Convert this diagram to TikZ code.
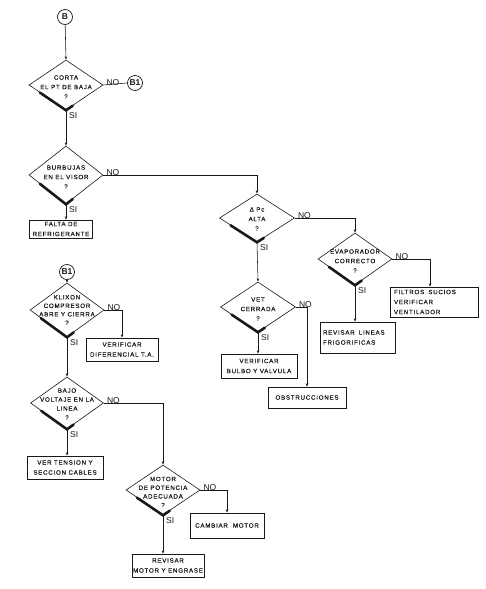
\documentclass[tikz,border=0pt]{standalone}
\usepackage{fontspec}
\setmainfont{Liberation Sans}
\newfontfamily\lblfont[LetterSpace=12,FakeBold=0.5]{Liberation Sans}
\usetikzlibrary{shapes.geometric,calc,arrows.meta}
\definecolor{ink}{gray}{0.1}
\tikzset{
  dia/.style={shape=diamond,draw=ink,line width=0.6pt,inner sep=0pt},
  dtext/.style={align=center,font=\lblfont\fontsize{6.2}{9.5}\selectfont,text=ink,inner sep=0pt},
  abox/.style={draw=ink,line width=0.6pt,align=center,font=\lblfont\fontsize{6.2}{10}\selectfont,text=ink,inner sep=0pt},
  conn/.style={circle,draw=ink,line width=0.7pt,minimum size=15pt,inner sep=0pt,font=\fontsize{8.5}{9}\selectfont\bfseries,text=ink},
  flow/.style={draw=ink,line width=0.55pt,-{Stealth[length=3.5pt,width=2.5pt]}},
  plain/.style={draw=ink,line width=0.55pt},
  yn/.style={font=\fontsize{8.5}{8.5}\selectfont,text=ink,inner sep=0pt},
  shade/.style={draw=ink,line width=2.6pt,line cap=round}
}
\newcommand{\diashade}[1]{%
  \draw[shade] ($(#1.west)!0.3!(#1.south)$) -- (#1.south) -- ($(#1.south)!0.18!(#1.east)$);}
\begin{document}
\begin{tikzpicture}[x=1pt,y=-1pt]
\useasboundingbox (0,0) rectangle (485,589);
% connectors B, B1
\node[conn] (B) at (65,17) {B};
\node[conn] (B1a) at (135,83) {B1};
\node[conn] (B1b) at (67,272) {B1};
% diamonds
\node[dia,minimum width=74pt,minimum height=50pt] (d1) at (66,85) {};
\node[dtext] (d1t) at (66,87) {CORTA\\EL PT DE BAJA\\?};
\node[dia,minimum width=74pt,minimum height=58pt] (d2) at (66,175) {};
\node[dtext] (d2t) at (66,177) {BURBUJAS\\EN EL VISOR\\?};
\node[dia,minimum width=75pt,minimum height=48pt] (d3) at (257,218) {};
\node[dtext] (d3t) at (257,219) {Δ Pc\\ALTA\\?};
\node[dia,minimum width=74pt,minimum height=52pt] (d4) at (355,259) {};
\node[dtext] (d4t) at (355,261) {EVAPORADOR\\CORRECTO\\?};
\node[dia,minimum width=75pt,minimum height=50pt] (d5) at (258,307) {};
\node[dtext] (d5t) at (258,309) {VET\\CERRADA\\?};
\node[dia,minimum width=74pt,minimum height=54pt] (d6) at (67,310) {};
\node[dtext,font=\lblfont\fontsize{6.2}{8.5}\selectfont] (d6t) at (67,310) {KLIXON\\COMPRESOR\\ABRE Y CIERRA\\?};
\node[dia,minimum width=73pt,minimum height=52pt] (d7) at (67,403) {};
\node[dtext,font=\lblfont\fontsize{6.2}{9}\selectfont] (d7t) at (67,404) {BAJO\\VOLTAJE EN LA\\LINEA\\?};
\node[dia,minimum width=74pt,minimum height=50pt] (d8) at (163,490) {};
\node[dtext,font=\lblfont\fontsize{6.2}{8.7}\selectfont] (d8t) at (163,492) {MOTOR\\DE POTENCIA\\ADECUADA\\?};
\foreach \d in {d1,d2,d3,d4,d5,d6,d7,d8} {\diashade{\d}}
% boxes
\node[abox,minimum width=63pt,minimum height=18pt] (falta) at (61,229) {FALTA DE\\REFRIGERANTE};
\node[abox,minimum width=88pt,minimum height=30pt,align=left,text width=80pt] (filt) at (434,302) {FILTROS\ \ SUCIOS\\VERIFICAR\\VENTILADOR};
\node[abox,minimum width=75pt,minimum height=31pt,align=left,text width=69pt] (revlin) at (357.5,337.5) {REVISAR\ \ LINEAS\\FRIGORIFICAS};
\node[abox,minimum width=76pt,minimum height=24pt] (bulbo) at (259,366) {VERIFICAR\\BULBO Y VALVULA};
\node[abox,minimum width=78pt,minimum height=21pt] (obst) at (307,397.5) {OBSTRUCCIONES};
\node[abox,minimum width=72pt,minimum height=23pt] (dif) at (122,349.5) {VERIFICAR\\DIFERENCIAL T.A.};
\node[abox,minimum width=76pt,minimum height=23pt] (tens) at (65,467.5) {VER TENSION Y\\SECCION CABLES};
\node[abox,minimum width=74pt,minimum height=25pt] (camb) at (227,525.5) {CAMBIAR\ \ MOTOR};
\node[abox,minimum width=72pt,minimum height=23pt] (revmot) at (168,565.5) {REVISAR\\MOTOR Y ENGRASE};
% flows
\draw[flow] (B) -- (d1.north);
\draw[plain] (d1.east) -- (B1a.west);
\node[yn,anchor=south west] (n1) at ($(d1.east)+(3,1)$) {NO};
\draw[flow] (d1.south) -- (d2.north);
\node[yn,anchor=north west] (s1) at ($(d1.south)+(3,2)$) {SI};
\draw[flow] (d2.east) -| (d3.north);
\node[yn,anchor=south west] (n2) at ($(d2.east)+(3,1)$) {NO};
\draw[flow] (d2.south) -- (d2.south |- falta.north);
\node[yn,anchor=north west] (s2) at ($(d2.south)+(3,2)$) {SI};
\draw[flow] (d3.east) -| (d4.north);
\node[yn,anchor=south west] (n3) at ($(d3.east)+(3,1)$) {NO};
\draw[flow] (d3.south) -- (d5.north);
\node[yn,anchor=north west] (s3) at ($(d3.south)+(3,2)$) {SI};
\draw[flow] (d4.east) -| ($(filt.north)+(-4,0)$);
\node[yn,anchor=south west] (n4) at ($(d4.east)+(3,1)$) {NO};
\draw[flow] (d4.south) -- (d4.south |- revlin.north);
\node[yn,anchor=north west] (s4) at ($(d4.south)+(3,2)$) {SI};
\draw[flow] (d5.east) -| (obst.north);
\node[yn,anchor=south west] (n5) at ($(d5.east)+(3,1)$) {NO};
\draw[flow] (d5.south) -- (d5.south |- bulbo.north);
\node[yn,anchor=north west] (s5) at ($(d5.south)+(3,2)$) {SI};
\draw[flow] (B1b) -- (d6.north);
\draw[flow] (d6.east) -| (dif.north);
\node[yn,anchor=south west] (n6) at ($(d6.east)+(3,1)$) {NO};
\draw[flow] (d6.south) -- (d7.north);
\node[yn,anchor=north west] (s6) at ($(d6.south)+(3,2)$) {SI};
\draw[flow] (d7.east) -| (d8.north);
\node[yn,anchor=south west] (n7) at ($(d7.east)+(3,1)$) {NO};
\draw[flow] (d7.south) -- (d7.south |- tens.north);
\node[yn,anchor=north west] (s7) at ($(d7.south)+(3,2)$) {SI};
\draw[flow] (d8.east) -| (camb.north);
\node[yn,anchor=south west] (n8) at ($(d8.east)+(3,1)$) {NO};
\draw[flow] (d8.south) -- (d8.south |- revmot.north);
\node[yn,anchor=north west] (s8) at ($(d8.south)+(3,2)$) {SI};
\end{tikzpicture}
\end{document}
